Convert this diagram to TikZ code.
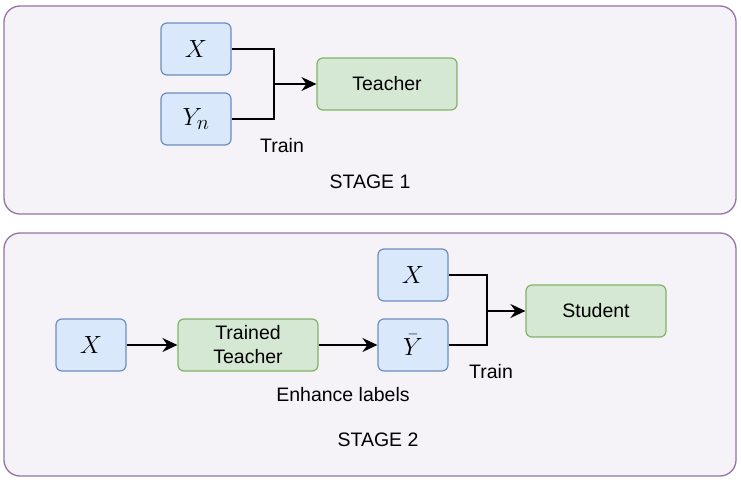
\documentclass[tikz,border=0pt]{standalone}
\usepackage{fontspec}
\setmainfont{Liberation Sans}
\usetikzlibrary{arrows.meta}
\definecolor{bluefill}{HTML}{DAE8FC}
\definecolor{blueline}{HTML}{6C8EBF}
\definecolor{greenfill}{HTML}{D5E8D4}
\definecolor{greenline}{HTML}{82B366}
\definecolor{stagefill}{HTML}{F5F3F7}
\definecolor{stageline}{HTML}{9673A6}
\begin{document}
\begin{tikzpicture}[x=1pt,y=-1pt,
  txt/.style={font=\fontsize{19.5}{24}\selectfont, inner sep=0pt},
  stagebox/.style={draw=stageline, fill=stagefill, line width=1.3pt, rounded corners=16pt},
  inbox/.style={draw=blueline, fill=bluefill, line width=1.2pt, rounded corners=6pt,
    minimum width=70pt, minimum height=52pt, inner sep=0pt, font=\fontsize{24.88}{28}\selectfont},
  modelbox/.style={draw=greenline, fill=greenfill, line width=1.2pt, rounded corners=6pt,
    minimum width=140pt, minimum height=52pt, inner sep=0pt, align=center,
    font=\fontsize{19.5}{24}\selectfont},
  conn/.style={line width=1.4pt},
  arr/.style={line width=1.4pt, -{Stealth[length=15pt,width=14pt,inset=5pt]}}
]
\useasboundingbox (0,0) rectangle (741,482);
\fill[white] (0,0) rectangle (741,482);
% stage boxes
\draw[stagebox] (4,6) rectangle (736,214);
\draw[stagebox] (4,233) rectangle (736,476);

% stage 1
\node[inbox] (x1) at (196,49) {$X$};
\node[inbox] (yn) at (196,119) {$Y_n$};
\node[modelbox] (teacher) at (387,84) {Teacher};
\coordinate (j1) at (274,84);
\draw[conn] (x1.east) -| (j1);
\draw[conn] (yn.east) -| (j1);
\draw[arr] (j1) -- (teacher.west);
\node[txt] (train1) at (282,146) {Train};
\node[txt] (st1) at (370,182) {STAGE 1};

% stage 2
\node[inbox] (x2) at (91,345) {$X$};
\node[modelbox] (tt) at (248,345) {Trained\\Teacher};
\node[inbox] (yb) at (413,345) {$\bar{Y}$};
\node[inbox] (x3) at (413,275) {$X$};
\node[modelbox] (student) at (596,311) {Student};
\draw[arr] (x2.east) -- (tt.west);
\draw[arr] (tt.east) -- (yb.west);
\coordinate (j2) at (487,311);
\draw[conn] (x3.east) -| (j2);
\draw[conn] (yb.east) -| (j2);
\draw[arr] (j2) -- (student.west);
\node[txt] (train2) at (491,372) {Train};
\node[txt] (enh) at (343,395) {Enhance labels};
\node[txt] (st2) at (378,440) {STAGE 2};
\end{tikzpicture}
\end{document}
